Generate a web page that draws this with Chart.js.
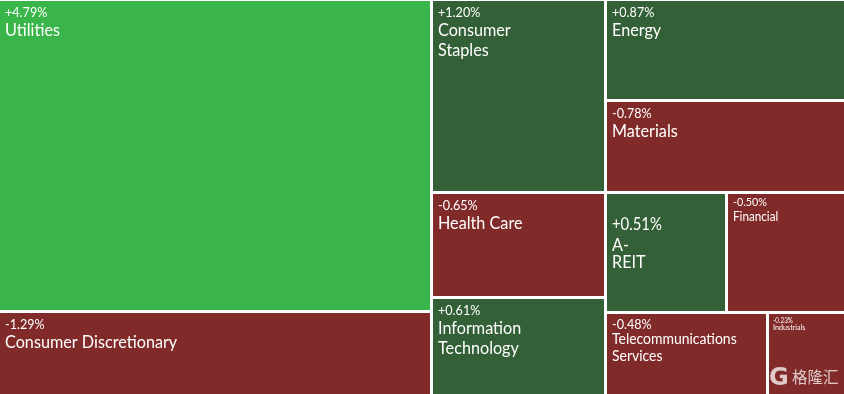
<!DOCTYPE html>
<html>
<head>
<meta charset="utf-8">
<script src="https://cdn.jsdelivr.net/npm/chart.js@4"></script>
<style>
html, body { margin: 0; padding: 0; background: #fff; overflow: hidden; }
canvas { display: block; }
</style>
</head>
<body>
<canvas id="chartSectores" width="844" height="394"></canvas>
<script>
const categories = ['Utilities', 'Consumer Discretionary', 'Consumer\nStaples', 'Health Care', 'Information\nTechnology',
    'Energy', 'Materials', 'A-\nREIT', 'Financial', 'Telecommunications\nServices', 'Industrials'];
const changes = [4.79, -1.29, 1.20, -0.65, 0.61, 0.87, -0.78, 0.51, -0.50, -0.48, -0.23];
const weights = [134784, 35424, 33582, 18270, 16704, 24038, 21896, 14520, 14040, 13122, 6156];
// columnas del treemap, los arrays internos son filas dentro de la columna
const columns = [[0, 1], [2, 3, 4], [5, 6, [7, 8], [9, 10]]];

const fontFamily = 'Lato, sans-serif';
const textSqueeze = 0.9;
// pct, nombre, margen izq, margen sup, gap pct-nombre, gap entre lineas
const labelStyles = {
    default: [14, 18, 5, 5, 2, 2],
    'A-\nREIT': [16.5, 18, 5, 23, 3.5, -1],
    'Financial': [12, 13, 5, 3, 2, 0],
    'Telecommunications\nServices': [14, 15.5, 5, 4, 0, 1.5],
    'Industrials': [7, 8, 4, 4, -1, 0],
};

function colorFor(change) {
    if (change > 2) return '#3ab54a';
    return change > 0 ? '#336037' : '#802b29';
}

function totalOf(node) {
    return Array.isArray(node) ? node.reduce((acc, n) => acc + totalOf(n), 0) : weights[node];
}

const cells = [];
function layout(node, x0, y0, x1, y1, vertical) {
    if (!Array.isArray(node)) {
        cells[node] = {x: (x0 + x1) / 2, y: y1, x0, x1, y0, y1};
        return;
    }
    const total = totalOf(node);
    let pos = vertical ? y0 : x0;
    node.forEach(n => {
        const span = totalOf(n) / total * (vertical ? y1 - y0 : x1 - x0);
        if (vertical) layout(n, x0, pos, x1, pos + span, false);
        else layout(n, pos, y0, pos + span, y1, true);
        pos += span;
    });
}
layout(columns, 0, 0, 1, 1, false);

class TreemapController extends Chart.BarController {
    updateElements(rects, start, count, mode) {
        const meta = this._cachedMeta;
        for (let i = start; i < start + count; i++) {
            const c = this.getDataset().data[i];
            const left = Math.round(meta.xScale.getPixelForValue(c.x0));
            const right = Math.round(meta.xScale.getPixelForValue(c.x1));
            const top = Math.round(meta.yScale.getPixelForValue(c.y0));
            const bottom = Math.round(meta.yScale.getPixelForValue(c.y1));
            this.updateElement(rects[i], i, {
                x: (left + right) / 2,
                y: top,
                base: bottom,
                width: right - left,
                height: bottom - top,
                horizontal: false,
                inflateAmount: 0,
                borderSkipped: {},
                options: this.resolveDataElementOptions(i, mode),
            }, mode);
        }
    }
}
TreemapController.id = 'treemap';
TreemapController.defaults = Chart.BarController.defaults;
Chart.register(TreemapController);

function squeezedText(ctx, text, x, y) {
    ctx.save();
    ctx.translate(x, y);
    ctx.scale(textSqueeze, 1);
    ctx.fillText(text, 0, 0);
    ctx.restore();
}

const etiquetas = {
    id: 'etiquetas',
    afterDatasetsDraw(chart) {
        const ctx = chart.ctx;
        const rects = chart.getDatasetMeta(0).data;
        ctx.save();
        ctx.fillStyle = '#fff';
        ctx.textBaseline = 'top';
        rects.forEach((rect, i) => {
            const [pctSize, nameSize, padX, padY, pctGap, lineGap] = labelStyles[categories[i]] || labelStyles.default;
            const cellLeft = rect.x - rect.width / 2;
            const left = cellLeft + padX + (cellLeft > 0 ? 1 : 0);
            let y = rect.y + padY;
            ctx.font = pctSize + 'px ' + fontFamily;
            const sign = changes[i] > 0 ? '+' : '';
            squeezedText(ctx, sign + changes[i].toFixed(2) + '%', left, y);
            y += pctSize + pctGap;
            ctx.font = nameSize + 'px ' + fontFamily;
            categories[i].split('\n').forEach(line => {
                squeezedText(ctx, line, left, y);
                y += nameSize + lineGap;
            });
        });
        // marca de agua
        ctx.fillStyle = 'rgba(255,255,255,0.75)';
        ctx.textBaseline = 'alphabetic';
        ctx.font = 'bold 24px "DejaVu Sans"';
        ctx.fillText('G', 769, 385);
        ctx.font = '15.5px "Noto Sans CJK SC"';
        ctx.fillText('格隆汇', 792, 383);
        ctx.restore();
    }
};

new Chart(document.getElementById('chartSectores').getContext('2d'), {
    type: 'treemap',
    data: {
        labels: categories,
        datasets: [{
            label: 'Sectores',
            data: cells,
            backgroundColor: changes.map(colorFor),
            borderColor: '#fff',
            borderWidth: ctx => ({
                top: 1,
                left: ctx.raw.x0 > 0 ? 1 : 0,
                right: ctx.raw.x1 < 0.9999 ? 2 : 0,
                bottom: ctx.raw.y1 < 0.9999 ? 2 : 0,
            }),
        }],
    },
    options: {
        responsive: false,
        animation: false,
        layout: {padding: 0},
        plugins: {legend: {display: false}, tooltip: {enabled: false}},
        scales: {
            x: {type: 'linear', display: false, min: 0, max: 1, offset: false},
            y: {type: 'linear', display: false, min: 0, max: 1, reverse: true},
        },
    },
    plugins: [etiquetas],
});
</script>
</body>
</html>
